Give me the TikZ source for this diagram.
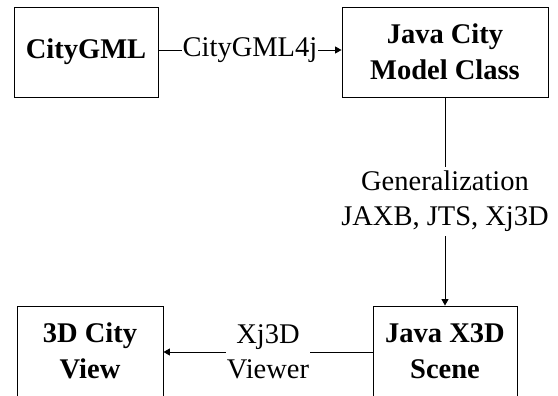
\documentclass[tikz,border=0pt]{standalone}
\usepackage{fontspec}
\setmainfont{Liberation Serif}
\usetikzlibrary{arrows.meta}
\begin{document}
\begin{tikzpicture}[x=1pt,y=-1pt,
  box/.style={draw, line width=0.9pt, minimum height=90pt, inner sep=0pt, align=center,
    font=\fontsize{28.5}{36}\selectfont\bfseries},
  lbl/.style={fill=white, inner xsep=1pt, inner ysep=4pt, align=center,
    font=\fontsize{28.5}{35}\selectfont},
  conn/.style={line width=0.9pt, -{Triangle[length=6.5pt,width=7pt]}}]
\useasboundingbox (0,0) rectangle (558,396);
\node[box, minimum width=144pt] (cg) at (86,52) {CityGML};
\node[box, minimum width=206pt] (jc) at (445,52) {Java City\\Model Class};
\node[box, minimum width=146pt] (cv) at (90,351) {3D City\\View};
\node[box, minimum width=144pt] (js) at (445,351) {Java X3D\\Scene};
\draw[conn] (cg.east |- 0,50) -- node[lbl]{CityGML4j} (jc.west |- 0,50);
\draw[conn] (jc.south) -- node[lbl]{Generalization\\JAXB, JTS, Xj3D} (js.north);
\draw[conn] (js.west |- 0,352) -- node[lbl]{Xj3D\\Viewer} (cv.east |- 0,352);
\end{tikzpicture}
\end{document}
